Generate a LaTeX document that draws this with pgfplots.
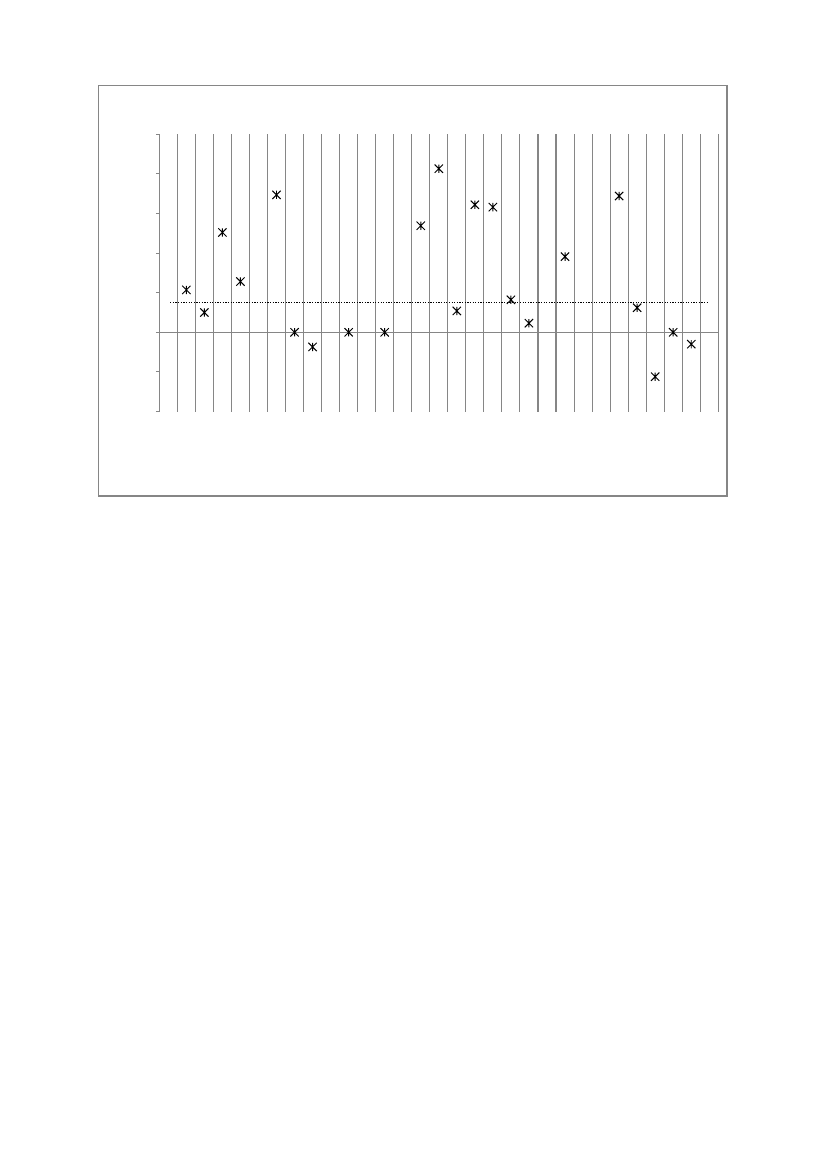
\documentclass[border=0pt]{standalone}
\usepackage{pgfplots}
\pgfplotsset{compat=1.18}
\definecolor{gridgray}{RGB}{134,134,134}
% Excel-style star marker: an X with a vertical bar through it
\pgfdeclareplotmark{xstar}{%
  \pgfpathmoveto{\pgfqpoint{-\pgfplotmarksize}{-\pgfplotmarksize}}%
  \pgfpathlineto{\pgfqpoint{\pgfplotmarksize}{\pgfplotmarksize}}%
  \pgfpathmoveto{\pgfqpoint{-\pgfplotmarksize}{\pgfplotmarksize}}%
  \pgfpathlineto{\pgfqpoint{\pgfplotmarksize}{-\pgfplotmarksize}}%
  \pgfpathmoveto{\pgfqpoint{0pt}{-\pgfplotmarksize}}%
  \pgfpathlineto{\pgfqpoint{0pt}{\pgfplotmarksize}}%
  \pgfusepathqstroke}
\begin{document}
\begin{tikzpicture}
  % page is 827 x 1169 px, 1 px = 0.7225pt, origin at top left
  \fill[white] (0,0) rectangle (827*0.7225pt,-1169*0.7225pt);
  \useasboundingbox (0,0) rectangle (827*0.7225pt,-1169*0.7225pt);
  \draw[gridgray, line width=0.75pt] (98.3*0.7225pt,-85.3*0.7225pt) rectangle (727*0.7225pt,-496*0.7225pt);
  \begin{axis}[
      at={(159.3*0.7225pt,-332.3*0.7225pt)},
      anchor=origin,
      scale only axis,
      width=559*0.7225pt,
      height=277.3*0.7225pt,
      xmin=0, xmax=31,
      ymin=-2, ymax=5,
      axis x line=middle,
      axis y line=left,
      axis line style={gridgray, line width=0.75pt, -},
      xtick={1,...,31},
      xticklabels={},
      x tick style={draw=none},
      xmajorgrids,
      major grid style={gridgray, line width=0.75pt},
      ytick={-2,...,5},
      yticklabels={},
      y tick style={gridgray, line width=0.75pt},
      tick align=outside,
      major tick length=2.5pt,
      clip=false,
    ]
    \addplot[black, line width=0.9pt, densely dotted] coordinates {
      (0.6,0.76) (30.4,0.76)
    };
    \addplot[only marks, mark=xstar, mark size=3pt, mark options={black, line width=0.7pt}] coordinates {
      (1.5,1.07) (2.5,0.50) (3.5,2.52) (4.5,1.28) (6.5,3.47)
      (7.5,0) (8.5,-0.37) (10.5,0) (12.5,0) (14.5,2.69)
      (15.5,4.13) (16.5,0.54) (17.5,3.22) (18.5,3.16) (19.5,0.82)
      (20.5,0.23) (22.5,1.91) (25.5,3.44) (26.5,0.62) (27.5,-1.12)
      (28.5,0) (29.5,-0.30)
    };
  \end{axis}
\end{tikzpicture}
\end{document}
